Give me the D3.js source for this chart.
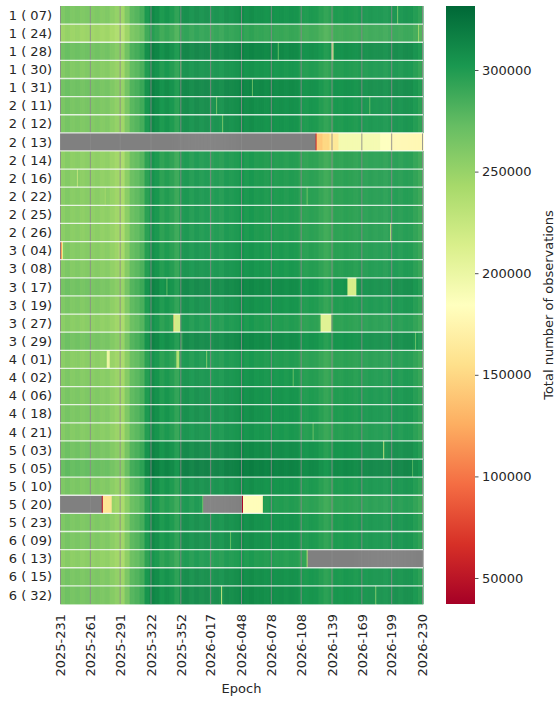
<!DOCTYPE html>
<html>
<head>
<meta charset="utf-8">
<script src="https://cdn.jsdelivr.net/npm/d3@7"></script>
<style>
  body { margin: 0; background: #fff; }
  text { font-family: "DejaVu Sans", sans-serif; fill: #262626; }
</style>
</head>
<body>
<div id="chart"></div>
<script>
// satellites (rows)
var satellites = ['1 ( 07)','1 ( 24)','1 ( 28)','1 ( 30)','1 ( 31)','2 ( 11)','2 ( 12)','2 ( 13)',
  '2 ( 14)','2 ( 16)','2 ( 22)','2 ( 25)','2 ( 26)','3 ( 04)','3 ( 08)','3 ( 17)','3 ( 19)',
  '3 ( 27)','3 ( 29)','4 ( 01)','4 ( 02)','4 ( 06)','4 ( 18)','4 ( 21)','5 ( 03)','5 ( 05)',
  '5 ( 10)','5 ( 20)','5 ( 23)','6 ( 09)','6 ( 13)','6 ( 15)','6 ( 32)'];

// epochs: one column per day starting 2025-231
var startYear = 2025, startDoy = 231, nDays = 365;
var epochs = d3.range(nDays).map(function(d){
  var doy = startDoy + d, y = startYear;
  if(doy > 365){ doy -= 365; y += 1; }
  return y + '-' + String(doy).padStart(3, '0');
});

var xTickLabels = ['2025-231','2025-261','2025-291','2025-322','2025-352','2026-017','2026-048',
  '2026-078','2026-108','2026-139','2026-169','2026-199','2026-230'];

// typical daily count, one value per 5-day block
var blockProfile = [
  258000,262000,258000,260000,257000,259000,256000,258000,255000,257000,
  252000,248000,243000,258000,272000,276000,282000,298000,308000,304000,
  297000,301000,297000,291000,304000,306000,302000,306000,303000,305000,
  302000,304000,301000,305000,303000,304000,306000,303000,305000,302000,
  303000,301000,303000,301000,302000,300000,302000,301000,297000,296000,
  298000,297000,293000,289000,292000,297000,296000,298000,297000,296000,
  299000,298000,300000,299000,300000,298000,301000,302000,300000,302000,
  301000,296000,291000];

// per-satellite shift of the level
var rowOffset = [3000,-11000,9000,1000,8000,5000,3000,0,-4000,-3000,-2000,-3000,-3000,
  -1000,0,7000,2000,-3000,7000,-3000,0,2000,3000,0,7000,13000,3000,-3000,3000,3000,
  -4000,4000,6000];

// deviating days: [row, first day, last day, value] (null = no data)
var anomalies = [
  [0,339,339,265000],[1,360,360,250000],[2,219,219,272000],[2,273,273,175000],[2,274,274,212000],
  [3,121,121,272000],[4,193,193,272000],[5,157,157,268000],[5,311,311,275000],[6,163,163,268000],
  [7,0,256,null],[7,257,257,62000],[7,258,263,142000],[7,264,270,150000],[7,271,279,163000],
  [7,280,321,193000],[7,322,331,185000],[7,332,364,178000],
  [9,17,17,228000],[10,45,45,245000],[10,248,248,270000],[12,332,332,232000],
  [13,0,0,50000],[13,1,1,120000],[13,2,2,210000],[13,59,59,232000],
  [15,107,107,275000],[15,289,297,215000],
  [17,114,114,150000],[17,115,120,218000],[17,262,272,208000],
  [18,122,122,285000],[18,357,357,272000],
  [19,16,16,255000],[19,47,49,200000],[19,117,119,238000],[19,147,147,262000],
  [20,234,234,272000],[23,254,254,270000],[24,325,325,232000],[25,354,354,282000],
  [27,0,41,null],[27,42,42,40000],[27,43,51,160000],[27,143,143,272000],[27,144,182,null],
  [27,183,183,40000],[27,184,202,182000],[27,203,203,176000],
  [29,171,171,275000],[30,248,248,238000],[30,249,364,null],
  [32,162,162,228000],[32,317,317,262000]
];

var colorTicks = [50000,100000,150000,200000,250000,300000];
var vmin = 37200, vmax = 331500;
var palette = ['#a50026','#d73027','#f46d43','#fdae61','#fee08b','#ffffbf',
  '#d9ef8b','#a6d96a','#66bd63','#1a9850','#006837'];

// build the cell table
var cells = [];
satellites.forEach(function(sat, r){
  var row = epochs.map(function(ep, d){
    return blockProfile[Math.floor(d/5)] + rowOffset[r];
  });
  anomalies.forEach(function(a){
    if(a[0] !== r) return;
    for(var d = a[1]; d <= a[2]; d++) row[d] = a[3];
  });
  row.forEach(function(v, d){
    cells.push({sat: sat, epoch: epochs[d], value: v});
  });
});

var W = 560, H = 703;
var plotLeft = 60, plotRight = 423, plotTop = 6, plotBottom = 604;
var cbLeft = 446, cbWidth = 29;

var svg = d3.select('#chart').append('svg')
  .attr('width', W).attr('height', H);

var x = d3.scaleBand().domain(epochs).range([plotLeft, plotRight]);
var y = d3.scaleBand().domain(satellites).range([plotTop, plotBottom]);
var color = d3.scaleLinear()
  .domain(palette.map(function(c, i){ return vmin + (vmax - vmin)*i/(palette.length - 1); }))
  .range(palette)
  .interpolate(d3.interpolateRgb)
  .clamp(true);

svg.append('g').selectAll('rect')
  .data(cells)
  .enter()
  .append('rect')
  .attr('x', function(d){ return x(d.epoch); })
  .attr('y', function(d){ return y(d.sat); })
  .attr('width', x.bandwidth() + 0.6)
  .attr('height', y.bandwidth() + 0.3)
  .attr('fill', function(d){ return d.value === null ? '#808080' : color(d.value); });

// vertical lines at the labelled epochs
svg.append('g').selectAll('line')
  .data(xTickLabels)
  .enter()
  .append('line')
  .attr('x1', function(d){ return x(d) + x.bandwidth()/2; })
  .attr('x2', function(d){ return x(d) + x.bandwidth()/2; })
  .attr('y1', plotTop).attr('y2', plotBottom)
  .attr('stroke', '#8a8a8a')
  .attr('stroke-width', 1)
  .attr('opacity', 0.85);

// white separators between satellites
svg.append('g').selectAll('line')
  .data(satellites.slice(1))
  .enter()
  .append('line')
  .attr('x1', plotLeft).attr('x2', plotRight)
  .attr('y1', function(d){ return y(d); })
  .attr('y2', function(d){ return y(d); })
  .attr('stroke', '#fff')
  .attr('stroke-width', 1.3)
  .attr('opacity', 0.8);

// y axis labels
svg.append('g').selectAll('text')
  .data(satellites)
  .enter()
  .append('text')
  .attr('x', 52)
  .attr('y', function(d){ return y(d) + y.bandwidth()/2; })
  .attr('dy', '0.36em')
  .attr('text-anchor', 'end')
  .style('font-size', '13px')
  .text(function(d){ return d; });

// x axis labels
svg.append('g').selectAll('text')
  .data(xTickLabels)
  .enter()
  .append('text')
  .attr('transform', function(d){
    return 'translate(' + (x(d) + x.bandwidth()/2) + ',' + (plotBottom + 10) + ') rotate(-90)';
  })
  .attr('dy', '0.36em')
  .attr('text-anchor', 'end')
  .style('font-size', '13px')
  .text(function(d){ return d; });

svg.append('text')
  .attr('x', (plotLeft + plotRight)/2)
  .attr('y', 693)
  .attr('text-anchor', 'middle')
  .style('font-size', '13px')
  .text('Epoch');

// colorbar
var cy = d3.scaleLinear().domain([vmin, vmax]).range([plotBottom, plotTop]);
var grad = svg.append('defs').append('linearGradient')
  .attr('id', 'cbGrad')
  .attr('x1', 0).attr('y1', 1).attr('x2', 0).attr('y2', 0);
grad.selectAll('stop')
  .data(palette)
  .enter()
  .append('stop')
  .attr('offset', function(d, i){ return i/(palette.length - 1); })
  .attr('stop-color', function(d){ return d; });

svg.append('rect')
  .attr('x', cbLeft).attr('y', plotTop)
  .attr('width', cbWidth).attr('height', plotBottom - plotTop)
  .attr('fill', 'url(#cbGrad)');

var cbAxis = svg.append('g')
  .attr('transform', 'translate(' + (cbLeft + cbWidth) + ',0)')
  .call(d3.axisRight(cy).tickValues(colorTicks).tickSize(3.5).tickPadding(3.5)
    .tickFormat(d3.format('d')));
cbAxis.select('.domain').remove();
cbAxis.selectAll('line').attr('stroke', '#262626').attr('stroke-width', 0.8);
cbAxis.selectAll('text')
  .style('font-size', '13px')
  .style('font-family', '"DejaVu Sans", sans-serif')
  .attr('fill', '#262626');

svg.append('text')
  .attr('transform', 'translate(548,' + ((plotTop + plotBottom)/2) + ') rotate(-90)')
  .attr('text-anchor', 'middle')
  .attr('dy', '0.36em')
  .style('font-size', '13px')
  .text('Total number of observations');
</script>
</body>
</html>
